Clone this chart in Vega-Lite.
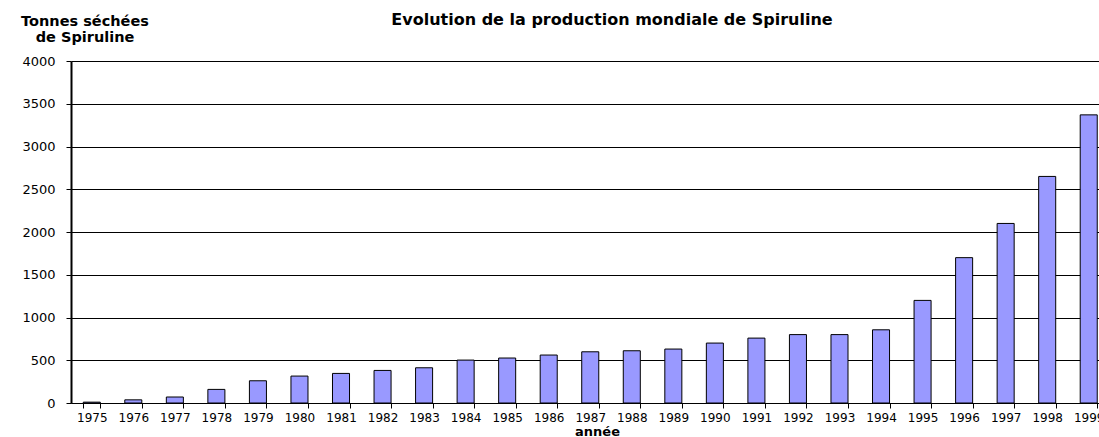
{
  "$schema": "https://vega.github.io/schema/vega-lite/v6.json",
  "width": 1028,
  "height": 342,
  "autosize": {"type": "none"},
  "padding": {"left": 71, "top": 61, "right": 0, "bottom": 34},
  "background": "white",
  "title": {
    "text": "Evolution de la production mondiale de Spiruline",
    "font": "DejaVu Sans",
    "fontSize": 16,
    "fontWeight": "bold",
    "color": "black",
    "anchor": "middle",
    "baseline": "alphabetic",
    "offset": 0,
    "dx": 27,
    "dy": 28
  },
  "data": {
    "values": [
      {"annee": "1975", "tonnes": 10},
      {"annee": "1976", "tonnes": 37},
      {"annee": "1977", "tonnes": 70},
      {"annee": "1978", "tonnes": 159},
      {"annee": "1979", "tonnes": 260},
      {"annee": "1980", "tonnes": 315},
      {"annee": "1981", "tonnes": 346},
      {"annee": "1982", "tonnes": 381},
      {"annee": "1983", "tonnes": 412},
      {"annee": "1984", "tonnes": 502},
      {"annee": "1985", "tonnes": 526},
      {"annee": "1986", "tonnes": 561},
      {"annee": "1987", "tonnes": 599},
      {"annee": "1988", "tonnes": 611},
      {"annee": "1989", "tonnes": 631},
      {"annee": "1990", "tonnes": 701},
      {"annee": "1991", "tonnes": 759},
      {"annee": "1992", "tonnes": 800},
      {"annee": "1993", "tonnes": 800},
      {"annee": "1994", "tonnes": 856},
      {"annee": "1995", "tonnes": 1200},
      {"annee": "1996", "tonnes": 1700},
      {"annee": "1997", "tonnes": 2100},
      {"annee": "1998", "tonnes": 2650},
      {"annee": "1999", "tonnes": 3370}
    ]
  },
  "mark": {"type": "bar", "fill": "#9999FF", "stroke": "black", "strokeWidth": 1},
  "encoding": {
    "x": {
      "field": "annee",
      "type": "ordinal",
      "sort": null,
      "scale": {"type": "band", "range": [0, 1038.5], "paddingInner": 0.59, "paddingOuter": 0.295},
      "axis": {
        "title": "année",
        "titleFont": "DejaVu Sans",
        "titleFontSize": 13,
        "titleFontWeight": "bold",
        "titleColor": "black",
        "titleAnchor": "start",
        "titleAlign": "center",
        "titleBaseline": "alphabetic",
        "titleX": 526,
        "titleY": 32,
        "labelAngle": 0,
        "labelFont": "DejaVu Sans",
        "labelFontSize": 12,
        "labelColor": "black",
        "labelPadding": 4,
        "labelOverlap": false,
        "labelFlush": false,
        "tickBand": "extent",
        "tickSize": 5,
        "tickColor": "black",
        "domainColor": "black",
        "domainWidth": 1,
        "grid": false
      }
    },
    "y": {
      "field": "tonnes",
      "type": "quantitative",
      "scale": {"domain": [0, 4000], "nice": false},
      "axis": {
        "values": [0, 500, 1000, 1500, 2000, 2500, 3000, 3500, 4000],
        "format": "d",
        "title": ["Tonnes séchées", "de Spiruline"],
        "titleFont": "DejaVu Sans",
        "titleFontSize": 14.5,
        "titleFontWeight": "bold",
        "titleColor": "black",
        "titleAngle": 0,
        "titleAlign": "center",
        "titleBaseline": "alphabetic",
        "titleLineHeight": 16,
        "titleX": 13.5,
        "titleY": -36,
        "labelFont": "DejaVu Sans",
        "labelFontSize": 13,
        "labelColor": "black",
        "labelPadding": 11,
        "tickSize": 5,
        "tickColor": "black",
        "domainColor": "black",
        "domainWidth": 2,
        "grid": true,
        "gridColor": "black",
        "gridOpacity": 1,
        "gridWidth": 1
      }
    }
  },
  "config": {
    "view": {"stroke": null}
  }
}
